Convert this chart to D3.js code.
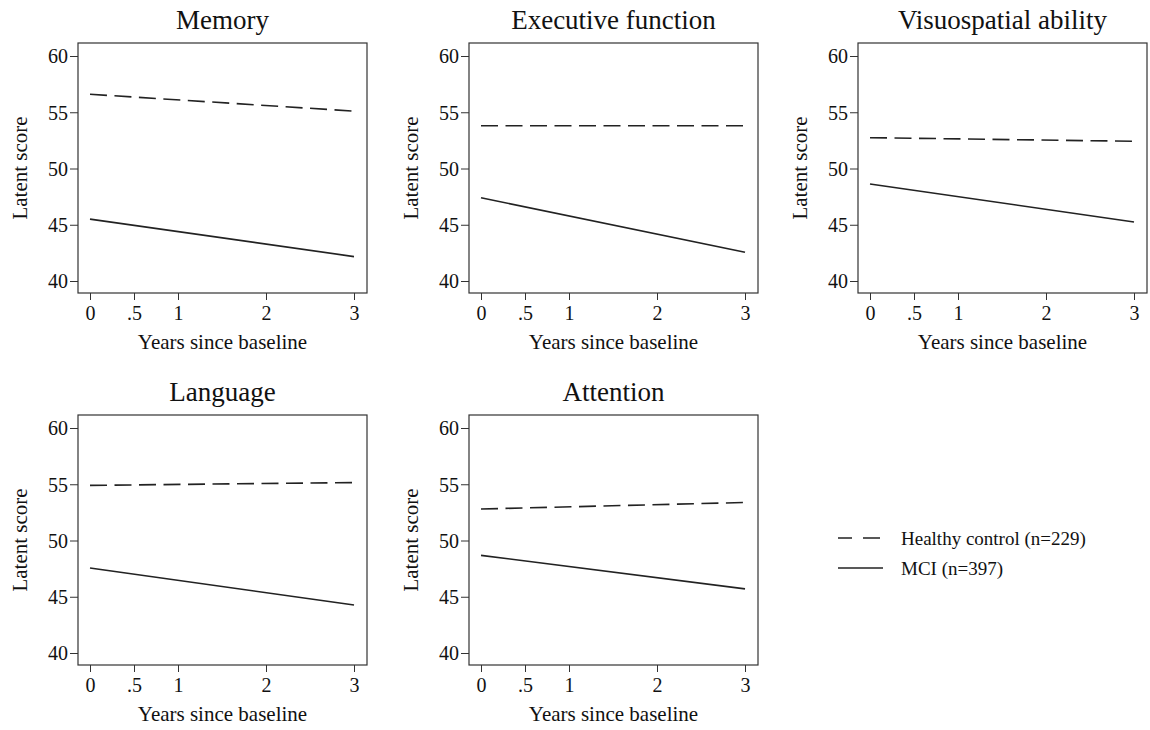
<!DOCTYPE html>
<html><head><meta charset="utf-8">
<script src="https://cdn.jsdelivr.net/npm/d3@7"></script>
<style>body{margin:0;background:#fff}svg{display:block}text{font-family:"Liberation Serif","Times New Roman",serif !important;fill:#111}</style>
</head><body><svg id="c" width="1150" height="730"></svg>
<script>
const panels = ["Memory","Executive function","Visuospatial ability","Language","Attention"];
const years = [0, 3];
const xTicks = [0, 0.5, 1, 2, 3];
const xTickLabels = ["0", ".5", "1", "2", "3"];
const yTicks = [40, 45, 50, 55, 60];
const healthyStart = [56.6, 53.8, 52.74, 54.9, 52.8];
const healthyEnd   = [55.1, 53.8, 52.42, 55.15, 53.38];
const mciStart     = [45.5, 47.4, 48.62, 47.55, 48.68];
const mciEnd       = [42.17, 42.55, 45.25, 44.27, 45.7];
const seriesNames = ["Healthy control (n=229)", "MCI (n=397)"];

const svg = d3.select("#c");
const layout = [
  {fx:78, fy:43}, {fx:469, fy:43}, {fx:858, fy:43},
  {fx:78, fy:415}, {fx:469, fy:415}
];
const W = 289, H = 250;
const FF = '"Liberation Serif","Times New Roman",serif';

panels.forEach((name, i) => {
  const L = layout[i];
  const g = svg.append("g").attr("transform", `translate(${L.fx},${L.fy})`);
  const x = d3.scaleLinear().domain([0, 3]).range([12, 276]);
  const y = d3.scaleLinear().domain([40, 60]).range([238, 13]);
  g.append("rect").attr("width", W).attr("height", H).attr("fill", "none").attr("stroke", "#333").attr("stroke-width", 1.2);
  const ya = g.append("g").call(d3.axisLeft(y).tickValues(yTicks).tickSize(8).tickPadding(2));
  ya.attr("font-family", FF).attr("font-size", 20);
  ya.select(".domain").remove();
  ya.selectAll("line").attr("stroke", "#333");
  ya.selectAll("text").attr("fill", "#111").attr("dy", "0.34em");
  const xa = g.append("g").attr("transform", `translate(0,${H})`).call(d3.axisBottom(x).tickValues(xTicks).tickFormat((d, j) => xTickLabels[j]).tickSize(7).tickPadding(6));
  xa.attr("font-family", FF).attr("font-size", 20);
  xa.select(".domain").remove();
  xa.selectAll("line").attr("stroke", "#333");
  xa.selectAll("text").attr("fill", "#111");
  g.append("text").attr("x", W / 2).attr("y", -14).attr("text-anchor", "middle").style("font-size", "27px").text(name);
  g.append("text").attr("x", W / 2).attr("y", 306).attr("text-anchor", "middle").style("font-size", "21px").text("Years since baseline");
  g.append("text").attr("transform", `translate(-51,${H / 2}) rotate(-90)`).attr("text-anchor", "middle").style("font-size", "21px").text("Latent score");
  const line = d3.line().x(d => x(d[0])).y(d => y(d[1]));
  g.append("path").datum([[years[0], healthyStart[i]], [years[1], healthyEnd[i]]]).attr("d", line)
    .attr("fill", "none").attr("stroke", "#222").attr("stroke-width", 1.6).attr("stroke-dasharray", "17,7.5");
  g.append("path").datum([[years[0], mciStart[i]], [years[1], mciEnd[i]]]).attr("d", line)
    .attr("fill", "none").attr("stroke", "#222").attr("stroke-width", 1.6);
});

const lg = svg.append("g").attr("transform", "translate(838,538)");
lg.append("line").attr("x1", 0).attr("x2", 42).attr("y1", 0).attr("y2", 0).attr("stroke", "#222").attr("stroke-width", 1.6).attr("stroke-dasharray", "14,11,17");
lg.append("line").attr("x1", 0).attr("x2", 45).attr("y1", 30).attr("y2", 30).attr("stroke", "#222").attr("stroke-width", 1.6);
lg.append("text").attr("x", 63).attr("y", 7).style("font-size", "19px").text(seriesNames[0]);
lg.append("text").attr("x", 63).attr("y", 37).style("font-size", "19px").text(seriesNames[1]);
</script></body></html>
